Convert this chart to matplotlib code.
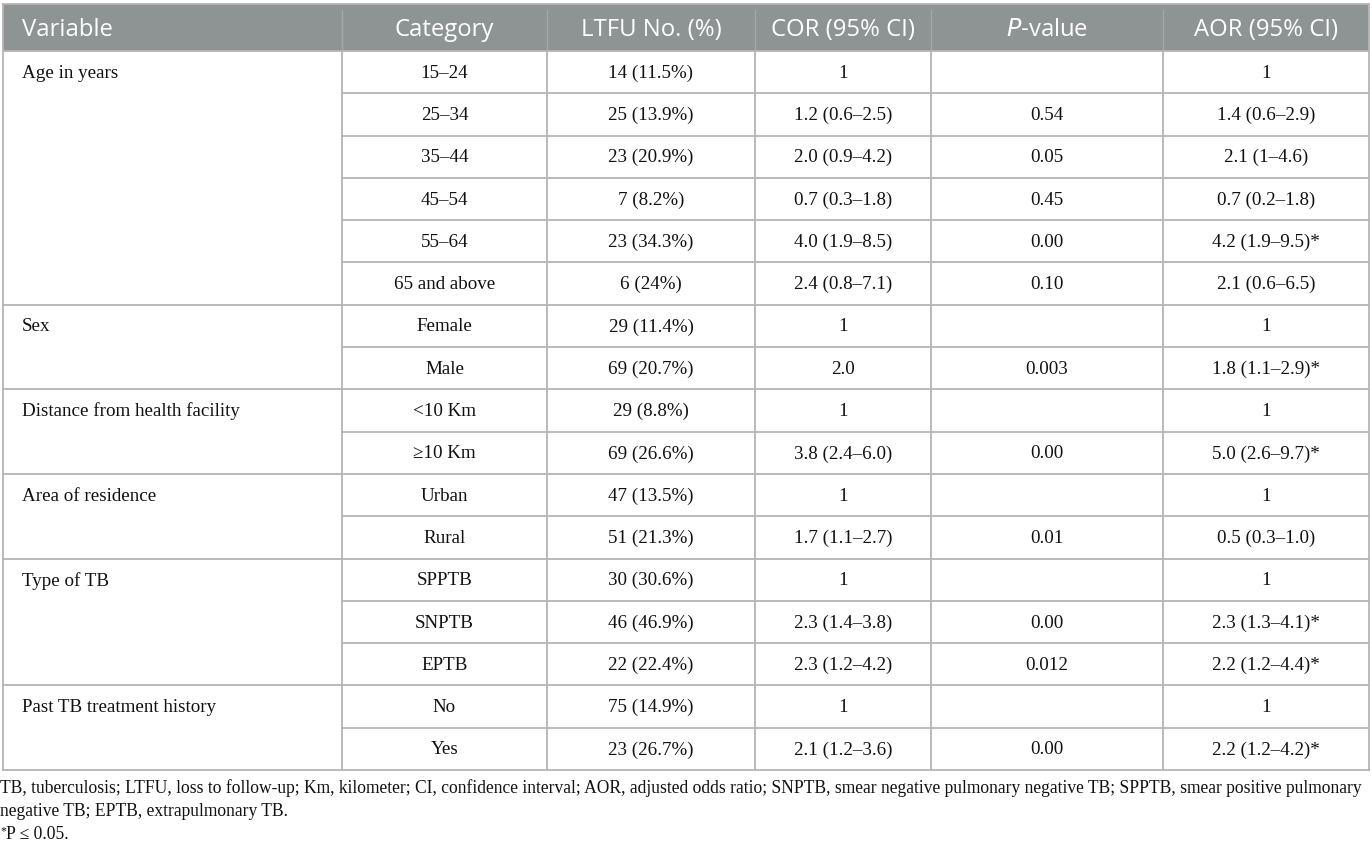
import matplotlib
matplotlib.use("Agg")
import matplotlib.pyplot as plt
from matplotlib.patches import Rectangle

# ---------------- data ----------------
headers = ["Variable", "Category", "LTFU No. (%)", "COR (95% CI)", "$\\it{P}$-value", "AOR (95% CI)"]
variables = ["Age in years", "Sex", "Distance from health facility", "Area of residence",
             "Type of TB", "Past TB treatment history"]
group_sizes = [6, 2, 2, 2, 3, 2]
categories = ["15–24", "25–34", "35–44", "45–54", "55–64", "65 and above",
              "Female", "Male", "<10 Km", "≥10 Km", "Urban", "Rural",
              "SPPTB", "SNPTB", "EPTB", "No", "Yes"]
ltfu = ["14 (11.5%)", "25 (13.9%)", "23 (20.9%)", "7 (8.2%)", "23 (34.3%)", "6 (24%)",
        "29 (11.4%)", "69 (20.7%)", "29 (8.8%)", "69 (26.6%)", "47 (13.5%)", "51 (21.3%)",
        "30 (30.6%)", "46 (46.9%)", "22 (22.4%)", "75 (14.9%)", "23 (26.7%)"]
cor = ["1", "1.2 (0.6–2.5)", "2.0 (0.9–4.2)", "0.7 (0.3–1.8)", "4.0 (1.9–8.5)", "2.4 (0.8–7.1)",
       "1", "2.0", "1", "3.8 (2.4–6.0)", "1", "1.7 (1.1–2.7)",
       "1", "2.3 (1.4–3.8)", "2.3 (1.2–4.2)", "1", "2.1 (1.2–3.6)"]
pvalue = ["", "0.54", "0.05", "0.45", "0.00", "0.10",
          "", "0.003", "", "0.00", "", "0.01",
          "", "0.00", "0.012", "", "0.00"]
aor = ["1", "1.4 (0.6–2.9)", "2.1 (1–4.6)", "0.7 (0.2–1.8)", "4.2 (1.9–9.5)*", "2.1 (0.6–6.5)",
       "1", "1.8 (1.1–2.9)*", "1", "5.0 (2.6–9.7)*", "1", "0.5 (0.3–1.0)",
       "1", "2.3 (1.3–4.1)*", "2.2 (1.2–4.4)*", "1", "2.2 (1.2–4.2)*"]
footnote_lines = [
    "TB, tuberculosis; LTFU, loss to follow-up; Km, kilometer; CI, confidence interval; AOR, adjusted odds ratio; SNPTB, smear negative pulmonary negative TB; SPPTB, smear positive pulmonary",
    "negative TB; EPTB, extrapulmonary TB.",
]
footnote_sig = "P ≤ 0.05."

# ---------------- layout ----------------
W, H = 1372, 846
fig = plt.figure(figsize=(W / 100, H / 100), dpi=100)
ax = fig.add_axes([0, 0, 1, 1])
ax.set_xlim(0, W)
ax.set_ylim(H, 0)
ax.axis("off")

col_edges = [3, 342, 547, 755, 931, 1163, 1369]
top = 4
header_bottom = 51
row_h = 42.3
n_rows = len(categories)
bottom = header_bottom + n_rows * row_h

header_color = "#8e9494"
line_color = "#b5b5b5"
serif = "Liberation Serif"
sans = "Open Sans"

# header background
ax.add_patch(Rectangle((col_edges[0], top), col_edges[-1] - col_edges[0], header_bottom - top,
                       facecolor=header_color, edgecolor="none", zorder=1))
for x in col_edges[1:-1]:
    ax.plot([x, x], [top + 6, header_bottom], color="#a3a9a9", lw=1.0, zorder=2)

hy = (top + header_bottom) / 2 + 2
hfs = 17.2
for i, h in enumerate(headers):
    if i == 0:
        ax.text(col_edges[0] + 19, hy, h, ha="left", va="center", color="white",
                fontsize=hfs, family=sans, zorder=3)
    else:
        ax.text((col_edges[i] + col_edges[i + 1]) / 2, hy, h, ha="center", va="center",
                color="white", fontsize=hfs, family=sans, zorder=3)

# body lines
lw = 1.3
ax.plot([col_edges[0], col_edges[0]], [top, bottom], color=line_color, lw=lw)
ax.plot([col_edges[-1], col_edges[-1]], [top, bottom], color=line_color, lw=lw)
ax.plot([col_edges[0], col_edges[-1]], [top, top], color=line_color, lw=lw)
ax.plot([col_edges[0], col_edges[-1]], [bottom, bottom], color=line_color, lw=lw)
for x in col_edges[1:-1]:
    ax.plot([x, x], [header_bottom, bottom], color=line_color, lw=lw)

group_starts = []
s = 0
for g in group_sizes:
    group_starts.append(s)
    s += g
for r in range(n_rows):
    y = header_bottom + r * row_h
    x0 = col_edges[0] if r in group_starts else col_edges[1]
    ax.plot([x0, col_edges[-1]], [y, y], color=line_color, lw=lw)

# body text
fs = 13.7
for var, start in zip(variables, group_starts):
    y = header_bottom + start * row_h + row_h / 2 + 1
    ax.text(col_edges[0] + 19, y, var, ha="left", va="center", fontsize=fs, family=serif, color="#111111")

columns = [categories, ltfu, cor, pvalue, aor]
for r in range(n_rows):
    y = header_bottom + r * row_h + row_h / 2 + 1
    for ci, col in enumerate(columns):
        xc = (col_edges[ci + 1] + col_edges[ci + 2]) / 2
        ax.text(xc, y, col[r], ha="center", va="center", fontsize=fs, family=serif, color="#111111")

# footnotes
ffs = 12.65
fy = bottom + 18
for line in footnote_lines:
    ax.text(0, fy, line, ha="left", va="center", fontsize=ffs, family=serif, color="#111111")
    fy += 23
ax.text(0, fy - 3, "*", ha="left", va="center", fontsize=8.5, family=serif, color="#111111")
ax.text(6, fy, footnote_sig, ha="left", va="center", fontsize=ffs, family=serif, color="#111111")

fig.savefig("out.png", dpi=100)
